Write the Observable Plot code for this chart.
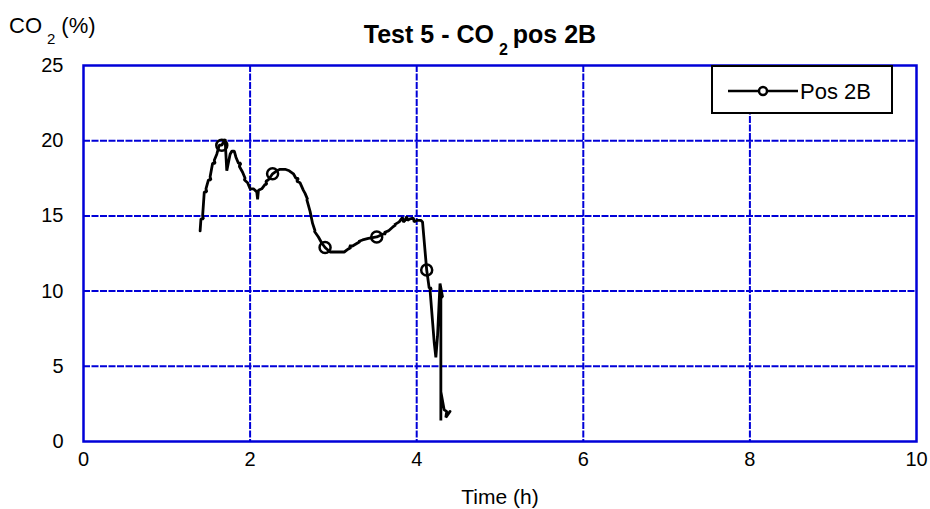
<!DOCTYPE html>
<html>
<head>
<meta charset="utf-8">
<script src="https://cdn.jsdelivr.net/npm/d3@7"></script>
<script src="https://cdn.jsdelivr.net/npm/@observablehq/plot@0.6"></script>
<style>
  html, body { margin: 0; padding: 0; background: #fff; }
  #chart { width: 930px; height: 509px; }
  svg { font-family: "Liberation Sans", Arial, sans-serif; }
</style>
</head>
<body>
<div id="chart"></div>
<script>
// ---- data ----
const timeH = [
  1.40, 1.41, 1.44, 1.43, 1.45, 1.48, 1.47, 1.50, 1.53, 1.52, 1.55, 1.58, 1.57, 1.60, 1.63, 1.66,
  1.70, 1.72, 1.76, 1.78, 1.81, 1.83, 1.86, 1.89, 1.87, 1.91, 1.94, 1.93, 1.97, 2.00, 2.04, 2.08,
  2.09, 2.10, 2.14, 2.18, 2.20, 2.19, 2.22, 2.27, 2.32, 2.36, 2.42, 2.47, 2.52, 2.55, 2.58, 2.56,
  2.60, 2.64, 2.66, 2.69, 2.68, 2.72, 2.75, 2.78, 2.77, 2.82, 2.86, 2.90, 2.96, 3.05, 3.13, 3.18,
  3.21, 3.19, 3.23, 3.29, 3.32, 3.30, 3.35, 3.42, 3.52, 3.60, 3.63, 3.61, 3.66, 3.72, 3.75, 3.73,
  3.79, 3.83, 3.84, 3.86, 3.88, 3.89, 3.92, 3.96, 3.97, 4.00, 4.05, 4.07, 4.12, 4.15, 4.18, 4.16,
  4.21, 4.23, 4.25, 4.28, 4.31, 4.29, 4.29, 4.29, 4.33, 4.36, 4.35, 4.40
];
const co2Pct = [
  14.0, 14.8, 14.8, 15.0, 16.6, 16.6, 16.8, 17.4, 17.4, 17.6, 18.5, 18.5, 18.7, 19.1, 19.7, 19.7,
  20.1, 18.0, 19.1, 19.3, 19.3, 18.9, 18.5, 18.5, 18.3, 17.9, 17.5, 17.4, 17.2, 16.8, 16.8, 16.6,
  16.1, 16.7, 16.8, 17.1, 17.1, 17.3, 17.4, 17.8, 18.0, 18.1, 18.1, 18.0, 17.8, 17.5, 17.5, 17.3,
  17.2, 16.7, 16.5, 16.1, 16.1, 15.3, 14.5, 14.0, 14.0, 13.6, 13.2, 12.9, 12.6, 12.6, 12.6, 12.8,
  12.9, 13.0, 13.0, 13.2, 13.3, 13.3, 13.4, 13.5, 13.6, 13.8, 13.8, 13.9, 14.0, 14.3, 14.4, 14.4,
  14.6, 14.9, 14.6, 14.7, 14.95, 14.7, 14.8, 14.85, 14.6, 14.7, 14.7, 14.6, 11.4, 10.2, 10.2, 10.1,
  6.6, 5.6, 7.0, 10.5, 9.6, 9.6, 1.4, 3.3, 2.1, 2.0, 1.6, 2.0
];
const markerIdx = [15, 39, 59, 72, 92];
const xTicks = [0, 2, 4, 6, 8, 10];
const yTicks = [0, 5, 10, 15, 20, 25];
const xGrid = [2, 4, 6, 8];
const yGrid = [5, 10, 15, 20];
const seriesName = "Pos 2B";

const data = timeH.map((t, i) => ({t, v: co2Pct[i]}));
const markers = markerIdx.map(i => data[i]);

const BLUE = "#0000d8";
const FONT = "Liberation Sans, Arial, sans-serif";

const plot = Plot.plot({
  width: 930,
  height: 509,
  marginLeft: 83,
  marginRight: 14,
  marginTop: 65,
  marginBottom: 68,
  style: {fontFamily: FONT, fontSize: "20px", color: "#000", background: "#fff"},
  x: {domain: [0, 10], ticks: xTicks, tickSize: 0, tickPadding: 10, label: null},
  y: {domain: [0, 25], ticks: yTicks, tickSize: 0, tickPadding: 20, label: null},
  marks: [
    Plot.gridX(xGrid, {stroke: BLUE, strokeOpacity: 1, strokeWidth: 2, strokeDasharray: "7,1.5"}),
    Plot.gridY(yGrid, {stroke: BLUE, strokeOpacity: 1, strokeWidth: 2, strokeDasharray: "7,1.5"}),
    Plot.frame({stroke: BLUE, strokeWidth: 2.5}),
    Plot.line(data, {x: "t", y: "v", stroke: "#000", strokeWidth: 2.8, strokeLinejoin: "miter"}),
    Plot.dot(markers, {x: "t", y: "v", r: 5.5, stroke: "#000", strokeWidth: 2.5, fill: "none"})
  ]
});

const svg = d3.select(plot);

// Legend box (top-right, inside the frame)
const lg = svg.append("g");
lg.append("rect").attr("x", 712).attr("y", 66).attr("width", 180).attr("height", 47)
  .attr("fill", "#fff").attr("stroke", "#000").attr("stroke-width", 2);
lg.append("line").attr("x1", 728).attr("x2", 798).attr("y1", 91).attr("y2", 91)
  .attr("stroke", "#000").attr("stroke-width", 2.5);
lg.append("circle").attr("cx", 763).attr("cy", 91).attr("r", 4)
  .attr("fill", "#fff").attr("stroke", "#000").attr("stroke-width", 2.5);
lg.append("text").attr("x", 800).attr("y", 99).attr("font-size", 22)
  .attr("text-anchor", "start").attr("font-family", FONT).text(seriesName);

// Title
const title = svg.append("text").attr("x", 480).attr("y", 43).attr("text-anchor", "middle")
  .attr("font-size", 25).attr("font-weight", "bold").attr("font-family", FONT);
title.append("tspan").text("Test 5 - CO");
title.append("tspan").attr("font-size", 16).attr("dx", 5).attr("dy", 12).text("2");
title.append("tspan").attr("dx", 5).attr("dy", -12).text("pos 2B");

// Y-axis label
const yl = svg.append("text").attr("x", 9).attr("y", 33).attr("text-anchor", "start")
  .attr("font-size", 22).attr("font-family", FONT);
yl.append("tspan").text("CO");
yl.append("tspan").attr("font-size", 15).attr("dx", 5).attr("dy", 11).text("2");
yl.append("tspan").attr("dx", 6).attr("dy", -11).text("(%)");

// X-axis label
svg.append("text").attr("x", 500).attr("y", 504).attr("text-anchor", "middle")
  .attr("font-size", 21).attr("font-family", FONT).text("Time (h)");

document.getElementById("chart").appendChild(plot);
</script>
</body>
</html>
